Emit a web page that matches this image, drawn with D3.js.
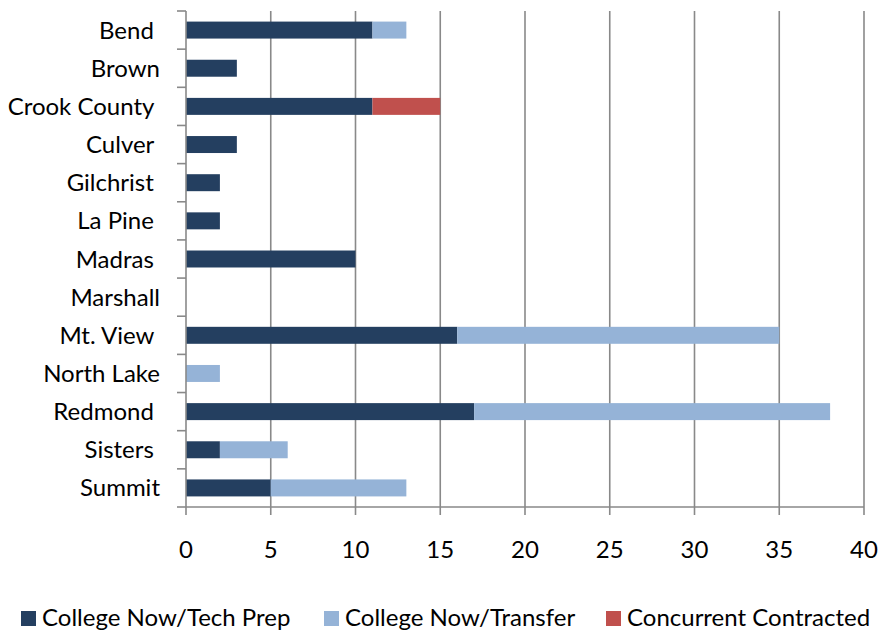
<!DOCTYPE html>
<html>
<head>
<meta charset="utf-8">
<script src="https://cdn.jsdelivr.net/npm/d3@7"></script>
<style>
  html, body { margin: 0; padding: 0; background: #fff; }
  svg text { font-family: Lato, "Open Sans", sans-serif; fill: #000; white-space: pre; }
</style>
</head>
<body>
<svg id="chart" width="878" height="630"></svg>
<script>
// Enrolment by school and programme type
const schools = ["Bend ", "Brown", "Crook County ", "Culver ", "Gilchrist ", "La Pine ", "Madras ",
                 "Marshall", "Mt. View ", "North Lake", "Redmond ", "Sisters ", "Summit"];
const techPrep   = [11, 3, 11, 3, 2, 2, 10, 0, 16, 0, 17, 2, 5];
const transfer   = [2, 0, 0, 0, 0, 0, 0, 0, 19, 2, 21, 4, 8];
const concurrent = [0, 0, 4, 0, 0, 0, 0, 0, 0, 0, 0, 0, 0];
const seriesNames = ["College Now/Tech Prep", "College Now/Transfer", "Concurrent Contracted"];
const seriesColors = ["#243F60", "#95B3D7", "#C0504D"];
const xTicks = [0, 5, 10, 15, 20, 25, 30, 35, 40];

const svg = d3.select("#chart");
const gridColor = "#898989";
const fontSize = 24;
const legendFont = 24;

const x = d3.scaleLinear().domain([0, 40]).range([186, 864]);
const y = d3.scaleBand().domain(schools).range([11, 507])
  .paddingInner(0.555).paddingOuter(0.2775);

// vertical gridlines
svg.append("g").selectAll("line").data(xTicks.filter(d => d > 0)).join("line")
  .attr("x1", d => x(d)).attr("x2", d => x(d))
  .attr("y1", 11).attr("y2", 507)
  .attr("stroke", gridColor).attr("stroke-width", 1.6);

// stacked bars
const rows = schools.map((s, i) => ({ school: s, vals: [techPrep[i], transfer[i], concurrent[i]] }));
const stack = d3.stack().keys([0, 1, 2]).value((d, k) => d.vals[k]);
const layers = stack(rows);
svg.append("g").selectAll("g").data(layers).join("g")
  .attr("fill", (d, i) => seriesColors[i])
  .selectAll("rect").data(d => d.filter(p => p[1] > p[0])).join("rect")
  .attr("x", d => x(d[0]))
  .attr("width", d => x(d[1]) - x(d[0]))
  .attr("y", d => y(d.data.school))
  .attr("height", y.bandwidth());

// left axis with category boundary ticks
const bounds = d3.range(schools.length + 1).map(i => 11 + i * (496 / schools.length));
const axG = svg.append("g");
axG.append("line").attr("x1", 186).attr("x2", 186).attr("y1", 11).attr("y2", 507)
  .attr("stroke", gridColor).attr("stroke-width", 1.6);
axG.selectAll("line.t").data(bounds).join("line").attr("class", "t")
  .attr("x1", 177).attr("x2", 186).attr("y1", d => d).attr("y2", d => d)
  .attr("stroke", gridColor).attr("stroke-width", 1.6);
axG.selectAll("text").data(schools).join("text")
  .attr("x", 160).attr("y", d => y(d) + y.bandwidth() / 2 + 8.5)
  .attr("text-anchor", "end").attr("font-size", fontSize)
  .text(d => d);

// bottom axis
const bx = svg.append("g");
bx.append("line").attr("x1", 186).attr("x2", 864).attr("y1", 507).attr("y2", 507)
  .attr("stroke", gridColor).attr("stroke-width", 1.6);
bx.selectAll("line.t").data(xTicks).join("line").attr("class", "t")
  .attr("x1", d => x(d)).attr("x2", d => x(d)).attr("y1", 507).attr("y2", 515)
  .attr("stroke", gridColor).attr("stroke-width", 1.6);
bx.selectAll("text").data(xTicks).join("text")
  .attr("x", d => x(d)).attr("y", 558)
  .attr("text-anchor", "middle").attr("font-size", fontSize)
  .text(d => d);

// legend: one swatch + label per series, laid out left to right
const legendX = [21, 324, 606];
const lg = svg.append("g");
seriesNames.forEach((name, i) => {
  lg.append("rect").attr("x", legendX[i]).attr("y", 611).attr("width", 15).attr("height", 15)
    .attr("fill", seriesColors[i]);
  lg.append("text").attr("x", legendX[i] + 21).attr("y", 626)
    .attr("font-size", legendFont).text(name);
});
</script>
</body>
</html>
